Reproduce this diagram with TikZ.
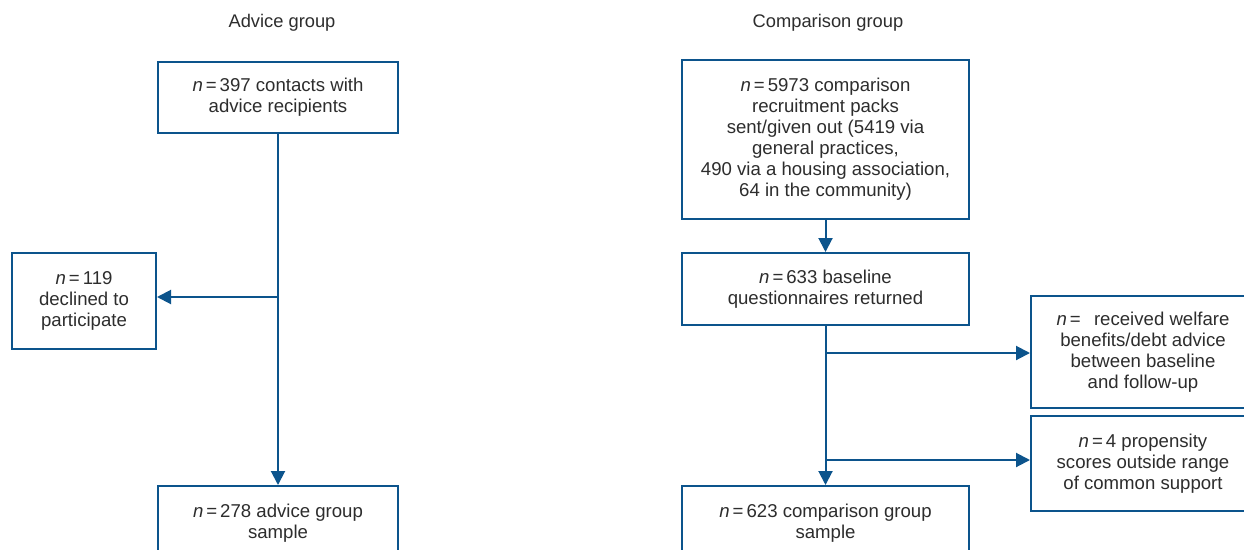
\documentclass[tikz,border=0pt]{standalone}
\usepackage{fontspec}
\setmainfont{Liberation Sans}
\usetikzlibrary{arrows.meta}
\definecolor{flowblue}{RGB}{12,84,140}
\definecolor{txt}{RGB}{45,45,45}
\newcommand{\nn}{{\itshape n}\hspace{3pt}=\hspace{3pt}}
\tikzset{
  box/.style={draw=flowblue, line width=2pt, fill=white, text=txt, align=center,
    font=\fontsize{18.6}{21}\selectfont, inner sep=0pt},
  conn/.style={draw=flowblue, line width=2pt, -{Triangle[length=14pt,width=14pt]}},
  plain/.style={draw=flowblue, line width=2pt},
  title/.style={text=txt, font=\fontsize{18.3}{21}\selectfont}
}
\begin{document}
\begin{tikzpicture}[x=1pt,y=-1pt]
\useasboundingbox (0,0) rectangle (1244,549);
\clip (0,0) rectangle (1244,549);
\fill[white] (0,0) rectangle (1244,549);
% titles
\node[title] (t1) at (282,23) {Advice group};
\node[title] (t2) at (828,23) {Comparison group};
% advice column
\node[box, minimum width=240pt, minimum height=71pt] (a1) at (278,97.5) {\nn 397 contacts with\\advice recipients};
\node[box, minimum width=144pt, minimum height=96pt] (a2) at (84,301) {\nn 119\\declined to\\participate};
\node[box, minimum width=240pt, minimum height=74pt, anchor=north] (a3) at (278,485) {\nn 278 advice group\\sample};
\coordinate (aj) at (278,297);
\draw[plain] (a1.south) -- (aj);
\draw[conn] (aj) -- (aj -| a2.east);
\draw[conn] (aj) -- (a3.north);
% comparison column
\node[box, minimum width=287pt, minimum height=159pt] (c1) at (825.5,139.5) {\nn 5973 comparison\\recruitment packs\\sent/given out (5419 via\\general practices,\\490 via a housing association,\\64 in the community)};
\node[box, minimum width=287pt, minimum height=72pt] (c2) at (825.5,289) {\nn 633 baseline\\questionnaires returned};
\node[box, minimum width=287pt, minimum height=74pt, anchor=north] (c3) at (825.5,485) {\nn 623 comparison group\\sample};
\node[box, minimum width=224pt, minimum height=112pt, anchor=north west] (r1) at (1030,295) {\nn\ \ received welfare\\benefits/debt advice\\between baseline\\and follow-up};
\node[box, minimum width=224pt, minimum height=95pt, anchor=north west] (r2) at (1030,415) {\nn 4 propensity\\scores outside range\\of common support};
\draw[conn] (c1.south) -- (c2.north);
\coordinate (cj1) at (825.5,353);
\coordinate (cj2) at (825.5,460);
\draw[plain] (c2.south) -- (cj1);
\draw[conn] (cj1) -- (cj1 -| r1.west);
\draw[conn] (cj2) -- (cj2 -| r2.west);
\draw[conn] (cj1) -- (c3.north);
\end{tikzpicture}
\end{document}
